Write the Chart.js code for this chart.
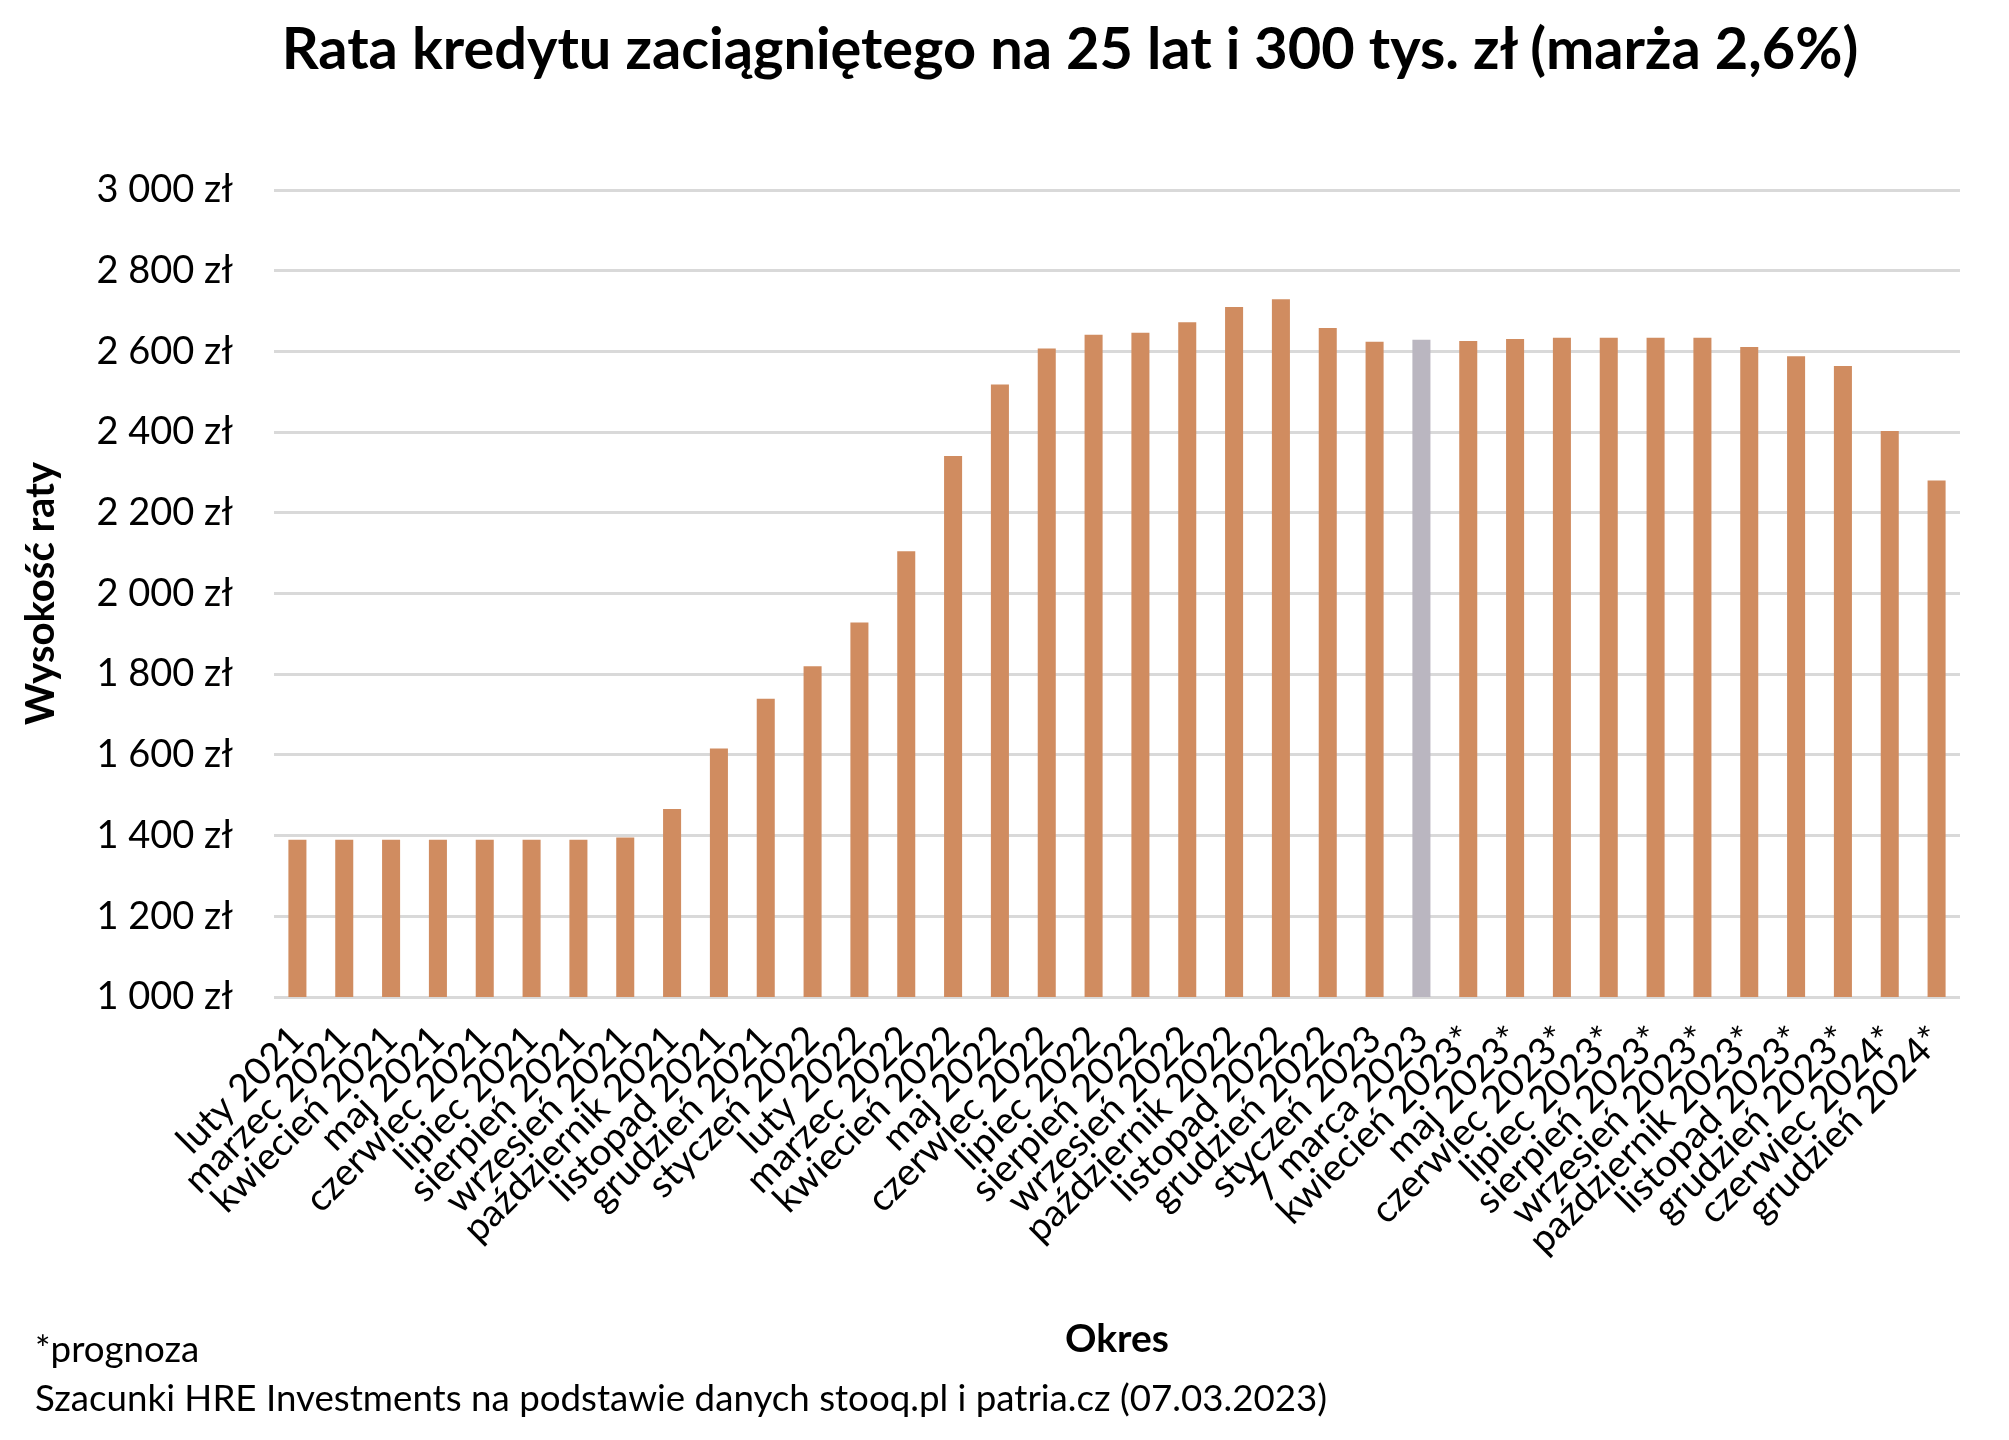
<!DOCTYPE html>
<html>
<head>
<meta charset="utf-8">
<script src="https://cdn.jsdelivr.net/npm/chart.js@4/dist/chart.umd.min.js"></script>
<style>
  body { margin: 0; background: #fff; }
  #wrap { position: relative; width: 2009px; height: 1440px; }
  .note { position: absolute; left: 35px; font-family: Lato, sans-serif; font-size: 36.7px; color: #000; line-height: 1; }
  #tytul { position: absolute; top: 18px; left: 1070px; transform: translateX(-50%); white-space: nowrap;
           font-family: Lato, sans-serif; font-weight: bold; font-size: 57.7px; line-height: 1; color: #000; }
</style>
</head>
<body>
<div id="wrap">
  <canvas id="rataChart" width="2009" height="1440"></canvas>
  <div id="tytul">Rata kredytu zaciągniętego na 25 lat i 300 tys. zł (marża 2,6%)</div>
  <div class="note" style="top:1330px">*prognoza</div>
  <div class="note" style="top:1379px">Szacunki HRE Investments na podstawie danych stooq.pl i patria.cz (07.03.2023)</div>
</div>
<script>
// Okresy (oś X)
const okresy = [
    "luty 2021", "marzec 2021", "kwiecień 2021", "maj 2021", "czerwiec 2021", "lipiec 2021",
    "sierpień 2021", "wrzesień 2021", "październik 2021", "listopad 2021", "grudzień 2021",
    "styczeń 2022", "luty 2022", "marzec 2022", "kwiecień 2022", "maj 2022", "czerwiec 2022",
    "lipiec 2022", "sierpień 2022", "wrzesień 2022", "październik 2022", "listopad 2022",
    "grudzień 2022", "styczeń 2023", "7 marca 2023", "kwiecień 2023*", "maj 2023*",
    "czerwiec 2023*", "lipiec 2023*", "sierpień 2023*", "wrzesień 2023*", "październik 2023*",
    "listopad 2023*", "grudzień 2023*", "czerwiec 2024*", "grudzień 2024*"
];

// Wysokość raty w zł
const raty = [
    1390, 1390, 1390, 1390, 1390, 1390,
    1390, 1395, 1466, 1616, 1739,
    1820, 1928, 2105, 2341, 2518, 2607,
    2641, 2646, 2672, 2710, 2729,
    2658, 2624, 2629, 2626, 2631,
    2634, 2634, 2634, 2634, 2611,
    2588, 2564, 2403, 2280
];

// Okres bieżący (wyróżniony na szaro)
const okresBiezacy = "7 marca 2023";

const osY = { min: 1000, max: 3000, krok: 200 };

const kolorSlupka = "#D08C60";
const kolorBiezacy = "#BAB6C0";
const czcionka = "Lato, sans-serif";

function formatZl(v) {
    return String(v).replace(/\B(?=(\d{3})+(?!\d))/g, " ") + " zł";
}

const ctx = document.getElementById("rataChart").getContext("2d");
new Chart(ctx, {
    type: "bar",
    data: {
        labels: okresy,
        datasets: [{
            label: "Rata",
            data: raty,
            backgroundColor: (c) => okresy[c.dataIndex] === okresBiezacy ? kolorBiezacy : kolorSlupka,
            categoryPercentage: 1,
            barPercentage: 0.385
        }]
    },
    options: {
        responsive: false,
        animation: false,
        devicePixelRatio: 1,
        layout: { padding: { left: 0, right: 49, top: 190, bottom: 0 } },
        plugins: {
            legend: { display: false },
            tooltip: { enabled: false },
            title: { display: false }
        },
        scales: {
            x: {
                grid: { display: false },
                border: { display: false },
                ticks: {
                    color: "#000",
                    font: { family: czcionka, size: 38 },
                    autoSkip: false,
                    minRotation: 45,
                    maxRotation: 45,
                    padding: 12
                },
                title: {
                    display: true,
                    text: "Okres",
                    color: "#000",
                    font: { family: czcionka, size: 39, weight: "bold" },
                    padding: { top: 0, bottom: 77 }
                },
                afterFit: (s) => { s.height = 443; }
            },
            y: {
                min: osY.min,
                max: osY.max,
                grid: { color: "#D9D9D9", lineWidth: 3, drawTicks: false },
                border: { display: false },
                ticks: {
                    stepSize: osY.krok,
                    color: "#000",
                    font: { family: czcionka, size: 38 },
                    padding: 41,
                    callback: (v) => formatZl(v)
                },
                title: {
                    display: true,
                    text: "Wysokość raty",
                    color: "#000",
                    font: { family: czcionka, size: 40, weight: "bold" },
                    padding: { top: 17, bottom: 0 }
                },
                afterFit: (s) => { s.width = 274; }
            }
        }
    }
});
</script>
</body>
</html>
